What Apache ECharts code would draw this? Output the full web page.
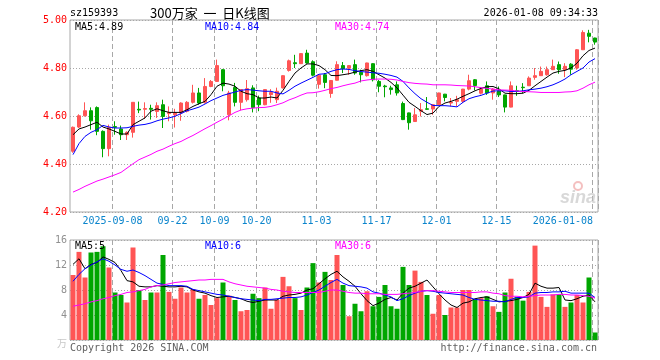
<!DOCTYPE html>
<html><head><meta charset="utf-8">
<script src="https://cdn.jsdelivr.net/npm/echarts/dist/echarts.min.js"></script>
<style>html,body{margin:0;padding:0;background:#fff}#c{width:660px;height:360px}</style>
</head><body><div id="c"></div>
<script>
const dates = ['2025-08-28','2025-08-29','2025-09-01','2025-09-02','2025-09-03','2025-09-04','2025-09-05',
'2025-09-08','2025-09-09','2025-09-10','2025-09-11','2025-09-12','2025-09-15','2025-09-16','2025-09-17','2025-09-18','2025-09-19',
'2025-09-22','2025-09-23','2025-09-24','2025-09-25','2025-09-26','2025-09-29','2025-09-30',
'2025-10-09','2025-10-10','2025-10-13','2025-10-14','2025-10-15','2025-10-16','2025-10-17',
'2025-10-20','2025-10-21','2025-10-22','2025-10-23','2025-10-24','2025-10-27','2025-10-28','2025-10-29','2025-10-30','2025-10-31',
'2025-11-03','2025-11-04','2025-11-05','2025-11-06','2025-11-07','2025-11-10','2025-11-11','2025-11-12','2025-11-13','2025-11-14',
'2025-11-17','2025-11-18','2025-11-19','2025-11-20','2025-11-21','2025-11-24','2025-11-25','2025-11-26','2025-11-27','2025-11-28',
'2025-12-01','2025-12-02','2025-12-03','2025-12-04','2025-12-05','2025-12-08','2025-12-09','2025-12-10','2025-12-11','2025-12-12',
'2025-12-15','2025-12-16','2025-12-17','2025-12-18','2025-12-19','2025-12-22','2025-12-23','2025-12-24','2025-12-25','2025-12-26',
'2025-12-29','2025-12-30','2025-12-31','2026-01-05','2026-01-06','2026-01-07','2026-01-08'];

const opens = [4.453,4.554,4.601,4.622,4.635,4.536,4.464,4.556,4.546,4.522,
 4.532,4.628,4.628,4.632,4.619,4.647,4.61,4.605,4.613,4.62,
 4.657,4.696,4.657,4.723,4.744,4.793,4.605,4.719,4.657,4.668,
 4.717,4.675,4.647,4.689,4.668,4.717,4.79,4.822,4.818,4.862,
 4.826,4.732,4.772,4.694,4.749,4.81,4.799,4.814,4.782,4.768,
 4.818,4.744,4.725,4.717,4.73,4.652,4.613,4.577,4.62,4.63,
 4.629,4.647,4.691,4.654,4.661,4.661,4.712,4.751,4.695,4.726,
 4.696,4.705,4.688,4.637,4.705,4.72,4.726,4.761,4.768,4.772,
 4.793,4.814,4.793,4.816,4.80,4.876,4.945,4.925];
const closes = [4.553,4.601,4.622,4.580,4.536,4.464,4.553,4.553,4.522,4.532,
 4.657,4.625,4.631,4.628,4.643,4.598,4.615,4.612,4.654,4.657,
 4.696,4.654,4.723,4.744,4.81,4.726,4.696,4.657,4.71,4.714,
 4.635,4.647,4.71,4.698,4.703,4.768,4.83,4.818,4.86,4.821,
 4.77,4.77,4.74,4.748,4.814,4.797,4.81,4.779,4.772,4.821,
 4.751,4.724,4.722,4.71,4.696,4.585,4.572,4.605,4.626,4.628,
 4.647,4.696,4.677,4.658,4.668,4.712,4.747,4.727,4.712,4.696,
 4.712,4.688,4.637,4.726,4.703,4.718,4.758,4.768,4.786,4.793,
 4.807,4.793,4.807,4.795,4.876,4.948,4.932,4.908];
const lows = [4.447,4.55,4.598,4.543,4.52,4.428,4.432,4.522,4.50,4.50,
 4.51,4.612,4.588,4.585,4.592,4.55,4.578,4.552,4.58,4.615,
 4.652,4.647,4.652,4.72,4.742,4.703,4.582,4.64,4.624,4.66,
 4.615,4.62,4.645,4.655,4.654,4.715,4.785,4.80,4.817,4.818,
 4.765,4.714,4.716,4.676,4.748,4.779,4.772,4.772,4.74,4.764,
 4.744,4.699,4.678,4.689,4.685,4.583,4.543,4.576,4.598,4.626,
 4.605,4.646,4.661,4.64,4.64,4.654,4.707,4.707,4.69,4.688,
 4.668,4.679,4.615,4.636,4.684,4.695,4.725,4.751,4.767,4.768,
 4.792,4.776,4.762,4.772,4.793,4.875,4.907,4.897];
const highs = [4.556,4.607,4.657,4.636,4.64,4.54,4.564,4.578,4.56,4.536,
 4.657,4.66,4.657,4.647,4.657,4.668,4.64,4.63,4.657,4.662,
 4.73,4.717,4.758,4.75,4.835,4.796,4.705,4.738,4.712,4.75,
 4.728,4.685,4.712,4.712,4.718,4.77,4.835,4.855,4.862,4.876,
 4.832,4.772,4.779,4.75,4.828,4.825,4.812,4.835,4.793,4.822,
 4.82,4.75,4.73,4.726,4.744,4.66,4.614,4.633,4.654,4.679,
 4.648,4.697,4.692,4.675,4.684,4.713,4.772,4.754,4.72,4.744,
 4.716,4.723,4.689,4.744,4.726,4.737,4.765,4.80,4.806,4.806,
 4.835,4.827,4.82,4.82,4.879,4.957,4.959,4.926];

const ma5 = [4.522,4.546,4.554,4.564,4.574,4.554,4.546,4.536,4.525,4.525,
 4.564,4.578,4.592,4.62,4.63,4.622,4.615,4.615,4.615,4.626,
 4.64,4.651,4.661,4.689,4.724,4.737,4.733,4.724,4.703,4.693,
 4.689,4.675,4.675,4.679,4.675,4.707,4.744,4.779,4.80,4.817,
 4.817,4.81,4.793,4.769,4.768,4.772,4.776,4.783,4.789,4.793,
 4.786,4.772,4.758,4.74,4.717,4.687,4.657,4.64,4.622,4.606,
 4.612,4.64,4.654,4.661,4.67,4.682,4.693,4.705,4.715,4.722,
 4.723,4.713,4.695,4.693,4.693,4.695,4.707,4.726,4.744,4.762,
 4.779,4.786,4.79,4.80,4.82,4.851,4.873,4.883];
const ma10 = [4.439,4.485,4.515,4.532,4.543,4.561,4.554,4.55,4.55,4.551,
 4.557,4.562,4.565,4.571,4.58,4.587,4.592,4.599,4.61,4.622,
 4.629,4.637,4.65,4.664,4.675,4.686,4.693,4.70,4.707,4.71,
 4.708,4.705,4.703,4.703,4.696,4.692,4.707,4.724,4.737,4.749,
 4.761,4.774,4.776,4.786,4.793,4.796,4.794,4.789,4.785,4.783,
 4.78,4.778,4.774,4.769,4.762,4.744,4.717,4.693,4.672,4.657,
 4.644,4.643,4.643,4.641,4.638,4.657,4.672,4.68,4.686,4.695,
 4.704,4.705,4.705,4.702,4.702,4.705,4.709,4.712,4.716,4.722,
 4.73,4.741,4.754,4.772,4.786,4.80,4.825,4.839];
const ma30 = [4.283,4.294,4.307,4.318,4.329,4.337,4.346,4.355,4.365,4.383,
 4.401,4.418,4.429,4.44,4.453,4.462,4.474,4.485,4.494,4.507,
 4.519,4.533,4.547,4.56,4.574,4.587,4.601,4.615,4.625,4.63,
 4.633,4.635,4.636,4.64,4.647,4.655,4.667,4.676,4.687,4.696,
 4.697,4.701,4.707,4.714,4.719,4.726,4.732,4.737,4.746,4.75,
 4.753,4.754,4.754,4.753,4.75,4.744,4.739,4.736,4.734,4.733,
 4.73,4.73,4.73,4.729,4.727,4.726,4.725,4.722,4.718,4.715,
 4.712,4.709,4.708,4.707,4.704,4.702,4.701,4.70,4.698,4.698,
 4.698,4.698,4.70,4.701,4.705,4.716,4.73,4.741];

const volumes = [10.4,14.1,10.0,14.0,14.1,15.0,11.6,7.6,7.2,6.0,
 14.8,8.0,6.4,7.6,7.6,13.6,7.7,6.6,8.4,7.6,
 8.1,6.6,7.2,5.6,6.7,9.2,7.1,6.4,4.6,4.8,
 7.4,6.7,8.4,5.0,6.4,10.1,8.6,6.7,4.8,8.4,
 12.3,9.2,10.9,9.6,13.6,8.8,3.8,5.8,4.6,7.8,
 5.4,6.9,8.8,5.4,5.0,11.7,8.8,11.1,9.3,7.2,
 4.2,7.2,4.0,5.2,5.2,8.0,8.0,6.5,6.7,7.0,
 5.4,4.5,7.6,9.8,6.9,6.3,7.7,15.1,6.9,5.3,
 7.3,7.3,5.3,6.0,7.2,6.0,10.0,1.2];
const volMa5 = [12.1,13.0,11.4,12.1,12.4,13.3,12.9,12.4,11.1,9.5,
 9.3,8.6,8.5,8.5,8.7,8.6,8.5,8.5,8.6,8.5,
 8.0,7.7,7.5,7.1,6.8,6.9,7.0,6.8,6.6,6.2,
 6.0,6.2,6.4,6.4,6.4,7.0,7.2,7.3,7.5,8.0,
 8.2,9.0,9.8,10.5,11.0,10.1,9.4,8.6,7.4,6.3,
 5.5,5.9,6.5,6.8,6.4,7.5,8.3,8.6,9.1,9.6,
 8.5,7.4,6.4,5.6,5.2,5.9,6.1,6.6,6.8,6.9,
 6.5,6.1,6.2,6.3,6.5,6.8,7.3,9.1,8.6,8.3,
 8.3,8.4,6.4,6.3,6.6,7.0,7.2,6.1];
const volMa10 = [9.4,10.5,11.4,12.0,12.5,13.0,12.6,12.0,11.3,11.0,
 11.2,10.8,10.3,9.7,9.1,8.9,8.7,8.7,8.7,8.6,
 8.1,7.9,7.7,7.5,7.3,7.2,7.0,6.8,6.6,6.5,
 6.4,6.3,6.5,6.5,6.6,6.7,6.8,6.8,6.9,7.2,
 7.6,8.0,8.6,9.2,9.7,9.1,8.7,8.6,8.5,8.3,
 7.7,7.5,7.2,6.9,6.3,6.6,7.1,7.5,7.8,7.9,
 7.8,7.6,7.5,7.4,7.3,7.2,6.8,6.5,6.4,6.3,
 6.2,6.2,6.1,6.5,6.8,6.8,6.9,7.5,7.6,7.6,
 7.7,7.7,7.8,7.5,7.5,7.5,7.5,6.8];
const volMa30 = [5.4,5.6,5.8,6.1,6.3,6.6,6.8,7.1,7.3,7.6,
 7.7,7.9,8.1,8.5,8.7,8.8,9.0,9.2,9.3,9.4,
 9.5,9.6,9.6,9.7,9.7,9.7,9.3,9.0,8.8,8.6,
 8.5,8.4,8.3,8.1,8.0,7.8,7.7,7.6,7.6,7.6,
 7.6,7.6,7.8,8.0,8.0,7.8,7.6,7.5,7.5,7.4,
 7.4,7.4,7.3,7.3,7.3,7.4,7.5,7.6,7.8,7.9,
 7.9,7.8,7.7,7.6,7.6,7.6,7.6,7.6,7.7,7.7,
 7.5,7.4,7.1,7.0,7.0,6.9,7.0,7.1,7.2,7.2,
 7.2,7.3,7.3,7.2,7.2,7.1,7.0,6.7];

const tickDates = ['2025-09-08','2025-09-22','2025-10-09','2025-10-20','2025-11-03','2025-11-17','2025-12-01','2025-12-15','2026-01-08'];
const tickTexts = ['2025-09-08','09-22','10-09','10-20','11-03','11-17','12-01','12-15','2026-01-08'];
const priceTicks = [4.2, 4.4, 4.6, 4.8, 5.0];
const volTicks = [0, 4, 8, 12, 16];

const RED = '#ff5555', GREEN = '#00a600', BLUE_T = '#0a84cc';
const MONO = '"DejaVu Sans Mono", monospace';
const GRIDC = '#a8a8a8';

const kData = dates.map((d, i) => [opens[i], closes[i], lows[i], highs[i]]);
const volData = volumes.map((v, i) => ({value: v, itemStyle: {color: closes[i] >= opens[i] ? RED : GREEN}}));
const isTick = (i, v) => tickDates.indexOf(v) >= 0;

const chart = echarts.init(document.getElementById('c'), null, {renderer: 'canvas'});

function txt(x, y, text, fill, align, font) {
  return {type: 'text', x: x, y: y, silent: true, z: 100,
    style: {text: text, fill: fill, font: font || ('10px ' + MONO), align: align || 'left', verticalAlign: 'middle',
      textAlign: align || 'left', textVerticalAlign: 'middle'}};
}

const option = {
  animation: false,
  backgroundColor: '#ffffff',
  grid: [
    {left: 70, right: 62, top: 20, height: 192, show: true, borderColor: GRIDC, borderWidth: 1, backgroundColor: 'transparent'},
    {left: 70, right: 62, top: 240, height: 100, show: true, borderColor: GRIDC, borderWidth: 1, backgroundColor: 'transparent'}
  ],
  xAxis: [
    {type: 'category', gridIndex: 0, data: dates, boundaryGap: true,
      axisLine: {show: false}, axisTick: {show: false},
      axisLabel: {interval: isTick, color: BLUE_T, fontFamily: MONO, fontSize: 10, margin: 4, alignMaxLabel: 'right',
        formatter: function (v) {
          const k = tickDates.indexOf(v);
          return k === tickDates.length - 1 ? '{e|' + tickTexts[k] + '}' : '{m|' + tickTexts[k] + '}';
        },
        rich: {
          m: {padding: [0, 5, 0, 0], color: BLUE_T, fontFamily: MONO, fontSize: 10},
          e: {padding: [0, 2, 0, 0], color: BLUE_T, fontFamily: MONO, fontSize: 10}
        }},
      splitLine: {show: true, interval: isTick, lineStyle: {color: GRIDC, width: 1, type: [5, 3]}}},
    {type: 'category', gridIndex: 1, data: dates, boundaryGap: true,
      axisLine: {show: false}, axisTick: {show: false}, axisLabel: {show: false},
      splitLine: {show: true, interval: isTick, lineStyle: {color: GRIDC, width: 1, type: [5, 3]}}}
  ],
  yAxis: [
    {type: 'value', gridIndex: 0, min: priceTicks[0], max: priceTicks[priceTicks.length - 1], interval: 0.2, scale: true,
      axisLine: {show: false}, axisTick: {show: false},
      axisLabel: {color: '#ff0000', fontFamily: MONO, fontSize: 10, margin: 3, formatter: v => v.toFixed(2)},
      splitLine: {show: true, lineStyle: {color: GRIDC, width: 1, type: [1, 2]}}},
    {type: 'value', gridIndex: 1, min: volTicks[0], max: volTicks[volTicks.length - 1], interval: 4,
      axisLine: {show: false}, axisTick: {show: false},
      axisLabel: {color: '#909090', fontFamily: MONO, fontSize: 10, margin: 3,
        formatter: v => v === 0 ? '{u|万}' : String(v),
        rich: {u: {color: '#c8c8c8', fontSize: 10, fontFamily: '"Noto Sans CJK SC"', padding: [6, 0, 0, 0]}}},
      splitLine: {show: true, lineStyle: {color: GRIDC, width: 1, type: [1, 2]}}}
  ],
  series: [
    {type: 'candlestick', xAxisIndex: 0, yAxisIndex: 0, data: kData, barWidth: 4,
      itemStyle: {color: RED, color0: GREEN, borderColor: RED, borderColor0: GREEN, borderWidth: 1}},
    {type: 'line', xAxisIndex: 0, yAxisIndex: 0, data: ma5, showSymbol: false, lineStyle: {color: '#000000', width: 1}, silent: true},
    {type: 'line', xAxisIndex: 0, yAxisIndex: 0, data: ma10, showSymbol: false, lineStyle: {color: '#0000ff', width: 1}, silent: true},
    {type: 'line', xAxisIndex: 0, yAxisIndex: 0, data: ma30, showSymbol: false, lineStyle: {color: '#ff00ff', width: 1}, silent: true},
    {type: 'bar', xAxisIndex: 1, yAxisIndex: 1, data: volData, barWidth: 5},
    {type: 'line', xAxisIndex: 1, yAxisIndex: 1, data: volMa5, showSymbol: false, lineStyle: {color: '#000000', width: 1}, silent: true},
    {type: 'line', xAxisIndex: 1, yAxisIndex: 1, data: volMa10, showSymbol: false, lineStyle: {color: '#0000ff', width: 1}, silent: true},
    {type: 'line', xAxisIndex: 1, yAxisIndex: 1, data: volMa30, showSymbol: false, lineStyle: {color: '#ff00ff', width: 1}, silent: true}
  ],
  graphic: [
    txt(70, 13, 'sz159393', '#000'),
    txt(150, 13, '300万家  一  日K线图', '#000', 'left', '13px "Noto Sans CJK SC"'),
    txt(598, 13, '2026-01-08 09:34:33', '#000', 'right'),
    txt(75, 27, 'MA5:4.89', '#000'),
    txt(205, 27, 'MA10:4.84', '#0000ff'),
    txt(335, 27, 'MA30:4.74', '#ff00ff'),
    txt(75, 246, 'MA5:5', '#000'),
    txt(205, 246, 'MA10:6', '#0000ff'),
    txt(335, 246, 'MA30:6', '#ff00ff'),
    txt(70, 348, 'Copyright 2026 SINA.COM', '#606060'),
    txt(597, 348, 'http://finance.sina.com.cn', '#606060', 'right'),
    {type: 'circle', silent: true, z: 99, shape: {cx: 578, cy: 186, r: 4},
      style: {fill: 'none', stroke: 'rgba(235,140,140,0.55)', lineWidth: 2}},
    txt(596, 198, 'sina', 'rgba(190,190,190,0.6)', 'right', 'italic bold 18px "Liberation Sans"')
  ]
};
chart.setOption(option);
</script></body></html>
